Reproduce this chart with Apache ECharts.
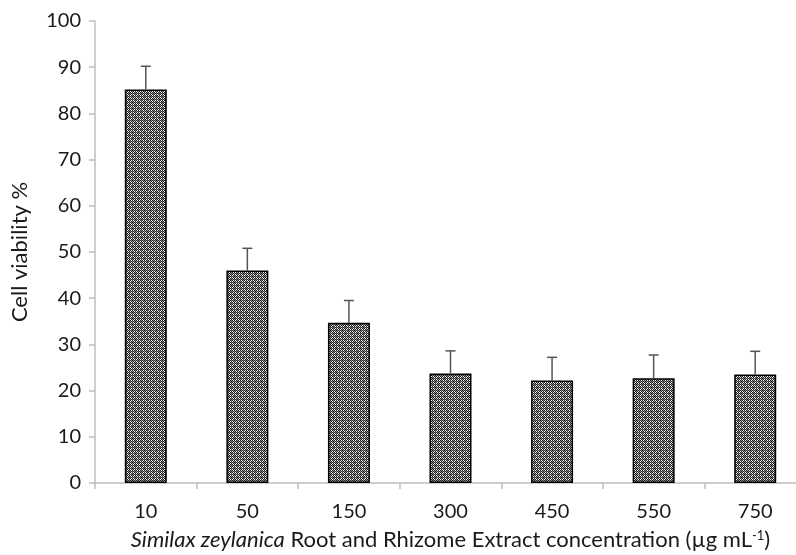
<!DOCTYPE html>
<html>
<head>
<meta charset="utf-8">
<script src="https://cdn.jsdelivr.net/npm/echarts@6/dist/echarts.min.js"></script>
<style>
  html, body { margin: 0; padding: 0; background: #fff; }
  #chart { width: 796px; height: 555px; }
</style>
</head>
<body>
<div id="chart"></div>
<script>
var categories = ['10', '50', '150', '300', '450', '550', '750'];
var viability = [85.2, 46.0, 34.7, 23.7, 22.2, 22.7, 23.5];
var sdValues = [5.0, 4.8, 4.8, 4.9, 5.0, 5.0, 5.0];
var yTicks = [0, 100, 10]; // min, max, interval

// checker-like fill as in the original
function makePattern() {
    var c = document.createElement('canvas');
    c.width = 6; c.height = 6;
    var ctx = c.getContext('2d');
    ctx.fillStyle = '#ffffff';
    ctx.fillRect(0, 0, 6, 6);
    for (var i = 0; i < 6; i++) {
        for (var j = 0; j < 6; j++) {
            if ((i + j) % 2 === 0) {
                ctx.fillStyle = '#1a1a1a';
            } else if (i % 3 === 0 || j % 3 === 0) {
                ctx.fillStyle = '#8a8a8a';
            } else {
                continue;
            }
            ctx.fillRect(i, j, 1, 1);
        }
    }
    return c;
}

var chart = echarts.init(document.getElementById('chart'));
var font = 'Lato, "Noto Sans", sans-serif';

var errData = viability.map(function (v, i) { return [i, v, v + sdValues[i]]; });

var option = {
    animation: false,
    backgroundColor: '#fff',
    grid: {
        left: 95, right: -10, top: 21, bottom: 72,
        containLabel: false,
        outerBoundsMode: 'none'
    },
    xAxis: {
        type: 'category',
        data: categories,
        axisLine: { lineStyle: { color: '#bfbfbf', width: 1.5 } },
        axisTick: { show: true, length: 6, lineStyle: { color: '#bfbfbf', width: 1.5 } },
        axisLabel: { color: '#1a1a1a', fontSize: 20, fontFamily: font, margin: 19 },
        name: '{i|Similax zeylanica} Root and Rhizome Extract concentration (µg mL{s|-1})',
        nameLocation: 'middle',
        nameGap: 46,
        nameTextStyle: {
            color: '#1a1a1a', fontSize: 22, fontFamily: font,
            rich: {
                i: { fontStyle: 'italic', fontSize: 22, fontFamily: font, color: '#1a1a1a' },
                s: { fontSize: 13, fontFamily: font, color: '#1a1a1a', verticalAlign: 'top', padding: [0, 0, 9, 0] }
            }
        }
    },
    yAxis: {
        type: 'value',
        min: yTicks[0], max: yTicks[1], interval: yTicks[2],
        axisLine: { show: true, lineStyle: { color: '#bfbfbf', width: 1.5 } },
        axisTick: { show: true, length: 6, lineStyle: { color: '#bfbfbf', width: 1.5 } },
        splitLine: { show: false },
        axisLabel: { color: '#1a1a1a', fontSize: 20, fontFamily: font, margin: 14 },
        name: 'Cell viability %',
        nameLocation: 'middle',
        nameGap: 64,
        nameTextStyle: { color: '#1a1a1a', fontSize: 22, fontFamily: font }
    },
    series: [
        {
            type: 'bar',
            data: viability,
            barWidth: 42,
            itemStyle: {
                color: { image: makePattern(), repeat: 'repeat' },
                borderColor: '#000',
                borderWidth: 1.5
            },
            z: 2
        },
        {
            type: 'custom',
            data: errData,
            z: 3,
            renderItem: function (params, api) {
                var base = api.coord([api.value(0), api.value(1)]);
                var top = api.coord([api.value(0), api.value(2)]);
                var half = 5;
                var style = { stroke: '#555', lineWidth: 1.5 };
                return {
                    type: 'group',
                    children: [
                        { type: 'line', shape: { x1: base[0], y1: base[1], x2: top[0], y2: top[1] }, style: style },
                        { type: 'line', shape: { x1: top[0] - half, y1: top[1], x2: top[0] + half, y2: top[1] }, style: style }
                    ]
                };
            }
        }
    ]
};
chart.setOption(option);
</script>
</body>
</html>
